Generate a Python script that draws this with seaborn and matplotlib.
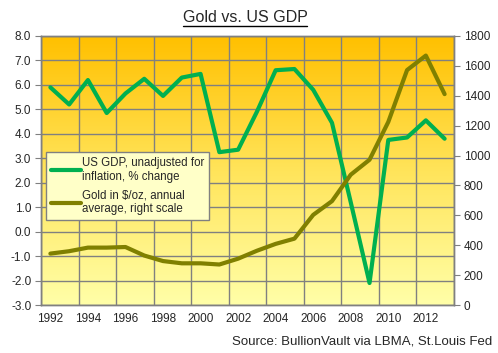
import numpy as np
import pandas as pd
import matplotlib
matplotlib.use('Agg')
import matplotlib.pyplot as plt
from matplotlib.lines import Line2D
from matplotlib.colors import LinearSegmentedColormap
import seaborn as sns

# datos
years = list(range(1992, 2014))
gdp = [5.9, 5.2, 6.2, 4.85, 5.65, 6.25, 5.55, 6.3, 6.45, 3.25, 3.35, 4.9,
       6.6, 6.65, 5.8, 4.45, 1.2, -2.1, 3.75, 3.85, 4.55, 3.8]
gold = [344, 360, 384, 384, 388, 331, 294, 279, 279, 271, 310, 363,
        409, 444, 603, 695, 872, 972, 1225, 1572, 1669, 1411]
gdp_label = "US GDP, unadjusted for\ninflation, % change"
gold_label = "Gold in $/oz, annual\naverage, right scale"
title = "Gold vs. US GDP"
source = "Source: BullionVault via LBMA, St.Louis Fed"

df = pd.DataFrame({'year': years, 'gdp': gdp, 'gold': gold})

sns.set_style('white')
plt.rcParams['font.family'] = ['Liberation Sans', 'DejaVu Sans']

green = '#00B050'
olive = '#808000'
grid_c = '#808080'

fig = plt.figure(figsize=(4.98, 3.53), dpi=100)
fig.patch.set_facecolor('white')
ax = fig.add_axes([41 / 498, 1 - 305 / 353, 413 / 498, 269 / 353])
ax2 = ax.twinx()

# fondo degradado naranja -> amarillo
cmap = LinearSegmentedColormap.from_list('bg', ['#FFC000', '#FFE45A', '#FFFFA8'])
grad = np.linspace(0, 1, 256).reshape(-1, 1)
ax.imshow(grad, cmap=cmap, aspect='auto', extent=[0, 1, 0, 1],
          transform=ax.transAxes, zorder=0, origin='upper')

sns.lineplot(data=df, x='year', y='gdp', ax=ax, color=green, linewidth=3,
             label=gdp_label, legend=False, zorder=3)
sns.lineplot(data=df, x='year', y='gold', ax=ax2, color=olive, linewidth=3,
             label=gold_label, legend=False, zorder=3)

ax.set_xlim(1991.5, 2013.5)
ax.set_ylim(-3, 8)
ax2.set_ylim(0, 1800)
ax.set_xticks(range(1992, 2013, 2))
ax.set_xticks(np.arange(1991.5, 2014, 2), minor=True)
ax.set_yticks(range(-3, 9))
ax.set_yticklabels([f"{v:.1f}" for v in range(-3, 9)])
ax2.set_yticks(range(0, 1801, 200))
ax.set_xlabel('')
ax.set_ylabel('')
ax2.set_ylabel('')

ax.grid(which='minor', axis='x', color=grid_c, linewidth=1)
ax.grid(which='major', axis='y', color=grid_c, linewidth=1)
ax.set_axisbelow(False)
for a in (ax, ax2):
    for s in a.spines.values():
        s.set_color(grid_c)
        s.set_linewidth(1)
ax2.patch.set_visible(False)

ax.tick_params(axis='x', which='major', length=0, labelsize=8.5, pad=6)
ax.tick_params(axis='x', which='minor', length=4, color=grid_c)
ax.tick_params(axis='y', length=4, color=grid_c, labelsize=8.5, left=True, pad=3)
ax2.tick_params(axis='y', length=4, color=grid_c, labelsize=8.5, right=True, pad=3)

handles = [Line2D([], [], color=green, linewidth=3),
           Line2D([], [], color=olive, linewidth=3)]
leg = ax2.legend(handles, [gdp_label, gold_label], loc='upper left',
                 bbox_to_anchor=(0.012, 0.568), fontsize=8.3, frameon=True,
                 fancybox=False, handlelength=2.6, handletextpad=0.1,
                 borderpad=0.4, labelspacing=0.6, borderaxespad=0)
leg.get_frame().set_facecolor('#FFFFC8')
leg.get_frame().set_edgecolor(grid_c)
leg.get_frame().set_alpha(1)
leg.set_zorder(5)

t = fig.text(245 / 498, 1 - 17 / 353, title, ha='center', va='center', fontsize=11.5)
fig.text(492 / 498, 1 - 342 / 353, source, ha='right', va='center', fontsize=9.5)

# subrayado del titulo
fig.canvas.draw()
bb = t.get_window_extent().transformed(fig.transFigure.inverted())
fig.add_artist(Line2D([bb.x0, bb.x1], [bb.y0 - 0.004, bb.y0 - 0.004],
                      color='black', linewidth=1, transform=fig.transFigure))

fig.savefig('out.png', dpi=100)
plt.close()
